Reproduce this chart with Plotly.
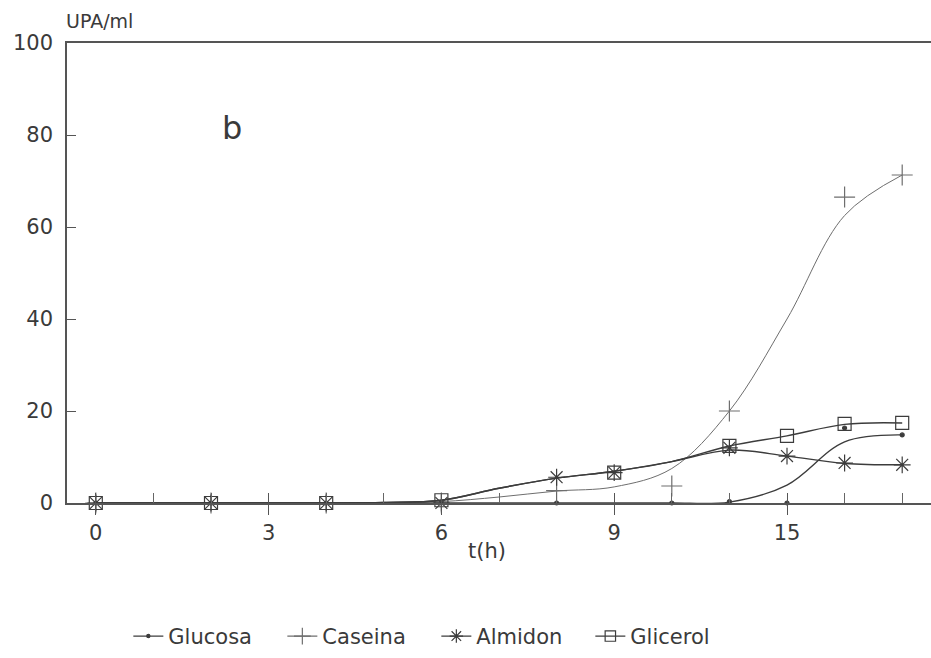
import plotly.graph_objects as go

# Sampling positions on the time axis and their printed labels
t_obs = [0, 2, 4, 6, 8, 9, 10, 11, 12, 13, 14]
t_fit = list(range(0, 15))
tick_pos = [0, 3, 6, 9, 12]
tick_text = ["0", "3", "6", "9", "15"]

# Measured activity (UPA/ml)
glucosa_obs = [0, 0, 0, 0, 0, None, 0, 0.3, 0, 16.3, 14.8]
caseina_obs = [0, 0, 0, 0, 2.7, None, 3.7, 20.0, None, 66.5, 71.3]
almidon_obs = [0, 0, 0, 0, 5.6, 6.6, None, 12.0, 10.2, 8.7, 8.3]
glicerol_obs = [0, 0, 0, 0.6, None, 6.6, None, 12.4, 14.6, 17.2, 17.4]

# Smoothed trend curves
glucosa_fit = [0, 0, 0, 0, 0, 0, 0, 0, 0, 0, 0, 0.2, 3.9, 13.3, 14.8]
caseina_fit = [0, 0, 0, 0, 0, 0.05, 0.3, 1.3, 2.6, 3.5, 7.5, 20.0, 40.0, 62.5, 71.3]
almidon_fit = [0, 0, 0, 0, 0, 0.1, 0.6, 3.2, 5.4, 6.9, 9.0, 11.5, 10.2, 8.6, 8.3]
glicerol_fit = [0, 0, 0, 0, 0, 0.1, 0.6, 3.2, 5.4, 6.9, 9.0, 12.4, 14.6, 17.1, 17.4]

FONT = "DejaVu Sans"
INK = "#3a3a3a"

series = [
    ("Glucosa", glucosa_obs, glucosa_fit, "circle", 4, "#3c3c3c", 1.4),
    ("Caseina", caseina_obs, caseina_fit, "cross-thin-open", 15, "#6e6e6e", 1.0),
    ("Almidon", almidon_obs, almidon_fit, "asterisk-open", 14, "#3c3c3c", 1.4),
    ("Glicerol", glicerol_obs, glicerol_fit, "square-open", 13, "#3c3c3c", 1.4),
]

fig = go.Figure()
for name, obs, fit, sym, size, col, lw in series:
    fig.add_trace(go.Scatter(
        x=t_fit, y=fit, mode="lines", line=dict(color=col, width=lw, shape="spline", smoothing=1.0),
        showlegend=False, hoverinfo="skip", cliponaxis=False,
    ))
    fig.add_trace(go.Scatter(
        x=t_obs, y=obs, mode="markers",
        marker=dict(symbol=sym, size=size, color=col, line=dict(color=col, width=1.2)),
        showlegend=False, cliponaxis=False, name=name,
    ))
    # legend entry: line with the series marker
    fig.add_trace(go.Scatter(
        x=[None], y=[None], mode="lines+markers", name=name,
        line=dict(color=col, width=1.2),
        marker=dict(symbol=sym, size=size * 0.8, color=col, line=dict(color=col, width=1.2)),
    ))

fig.update_layout(
    width=931, height=658,
    margin=dict(l=67, r=0, t=43, b=155),
    plot_bgcolor="white", paper_bgcolor="white",
    font=dict(family=FONT, size=21, color=INK),
    showlegend=True,
    legend=dict(
        orientation="h", x=0.071, xanchor="left", y=-0.29, yanchor="middle",
        font=dict(family=FONT, size=21, color=INK),
        entrywidth=109, entrywidthmode="pixels", itemwidth=30,
    ),
    xaxis=dict(
        range=[-0.5, 14.5], tickvals=tick_pos, ticktext=tick_text,
        showgrid=False, zeroline=False, showline=True, linecolor="#555", linewidth=1.5,
        mirror=True, ticks="outside", ticklen=10, tickcolor="#555", tickwidth=1.2,
        tickfont=dict(family=FONT, size=21, color=INK),
        minor=dict(dtick=1, tick0=0, ticks="inside", ticklen=10, tickcolor="#666", tickwidth=1.0),
    ),
    xaxis2=dict(
        overlaying="x", matches="x", side="bottom", anchor="y",
        range=[-0.5, 14.5], tickvals=tick_pos, showticklabels=False,
        showgrid=False, zeroline=False, showline=False,
        ticks="inside", ticklen=10, tickcolor="#555", tickwidth=1.2,
    ),
    yaxis=dict(
        range=[0, 100], tickvals=[0, 20, 40, 60, 80, 100],
        showgrid=False, zeroline=False, showline=True, linecolor="#555", linewidth=1.5,
        ticks="inside", ticklen=9, tickcolor="#555", tickwidth=1.2, ticklabelstandoff=8,
        tickfont=dict(family=FONT, size=21, color=INK),
    ),
    annotations=[
        dict(text="UPA/ml", xref="paper", yref="paper", x=-0.003, y=1.0, xanchor="left",
             yanchor="bottom", yshift=9, showarrow=False, font=dict(family=FONT, size=19, color=INK)),
        dict(text="t(h)", xref="paper", yref="paper", x=0.486, y=-0.104, xanchor="center",
             yanchor="middle", showarrow=False, font=dict(family=FONT, size=21, color=INK)),
        dict(text="b", xref="paper", yref="paper", x=0.191, y=0.815, xanchor="center",
             yanchor="middle", showarrow=False, font=dict(family=FONT, size=32, color=INK)),
    ],
)

# hidden trace to activate the secondary x-axis carrying the inner major ticks
fig.add_trace(go.Scatter(x=[0], y=[0], xaxis="x2", mode="markers", marker=dict(opacity=0),
                         showlegend=False, hoverinfo="skip"))

fig.write_html("out.html")
